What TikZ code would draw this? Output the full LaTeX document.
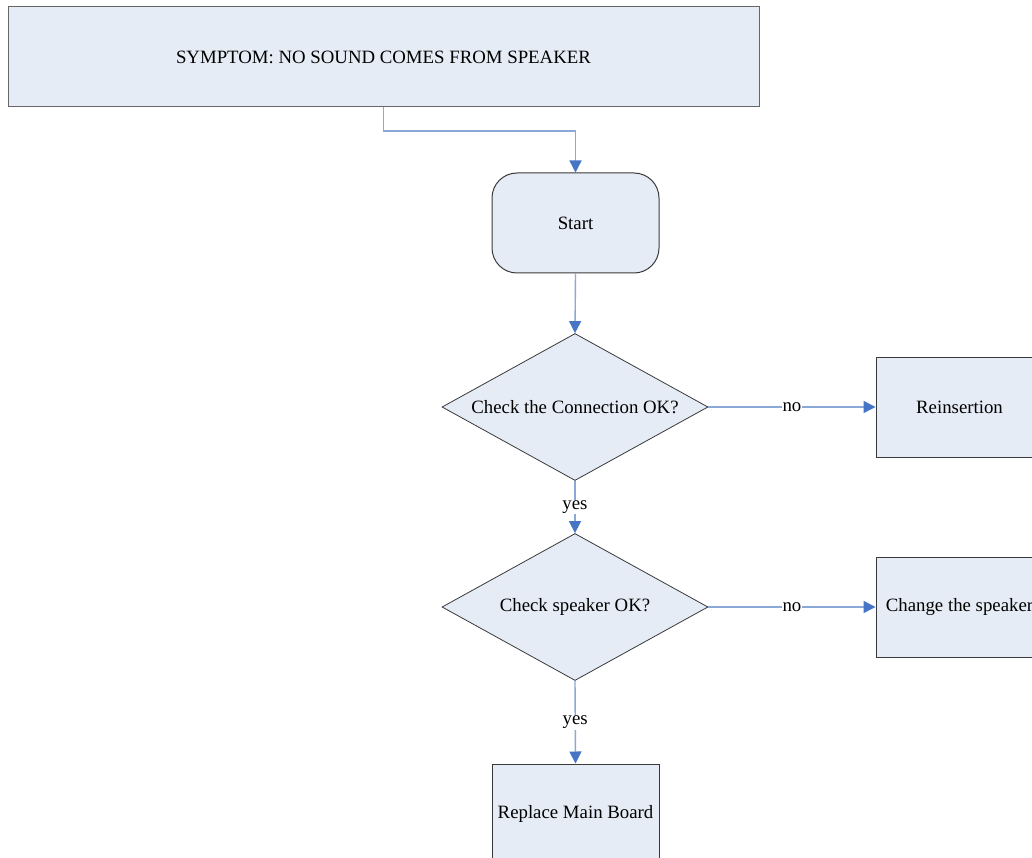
\documentclass[tikz,border=0pt]{standalone}
\usepackage{fontspec}
\setmainfont{Liberation Serif}
\usetikzlibrary{shapes.geometric,arrows.meta}
\definecolor{boxfill}{HTML}{E6ECF6}
\definecolor{boxdraw}{HTML}{3A3A3A}
\definecolor{linec}{HTML}{8AA8D8}
\definecolor{tipc}{HTML}{4575C4}
\tikzset{
  x=1pt,y=-1pt,
  every node/.style={font=\fontsize{18.8}{22}\selectfont},
  rectbox/.style={draw=boxdraw,fill=boxfill,line width=1pt,minimum width=167pt,minimum height=100pt,inner sep=0pt},
  startbox/.style={rectbox,rounded corners=25pt},
  decbox/.style={diamond,aspect=1.81,draw=boxdraw,fill=boxfill,line width=0.8pt,minimum width=266pt,minimum height=147pt,inner sep=0pt},
  conn/.style={draw=linec,line width=1.4pt,-{Triangle[length=12pt,width=12pt,color=tipc]}},
  lbl/.style={fill=white,inner sep=1pt}
}
\begin{document}
\begin{tikzpicture}
\useasboundingbox (0,0) rectangle (1032,858);
\clip (0,0) rectangle (1032,858);
\fill[white] (0,0) rectangle (1032,858);
\node[rectbox,draw=gray!80!black,minimum width=751pt] (sym) at (383.5,57) {SYMPTOM: NO SOUND COMES FROM SPEAKER};
\node[startbox] (start) at (575.5,223) {Start};
\node[decbox] (d1) at (575,407) {Check the Connection OK?};
\node[rectbox] (re) at (959.5,407) {Reinsertion};
\node[decbox] (d2) at (575,607) {Check speaker OK?};
\node[rectbox] (ch) at (959.5,607) {Change the speaker};
\node[rectbox] (rep) at (575.5,814) {Replace Main Board};
\coordinate (bend) at (383.5,131);
\draw[conn] (sym.south) -- (bend) -| (start.north);
\draw[conn] (start.south) -- (d1.north);
\draw[conn] (d1.east) -- node[lbl] {no} (re.west);
\draw[conn] (d1.south) -- node[lbl] {yes} (d2.north);
\draw[conn] (d2.east) -- node[lbl] {no} (ch.west);
\draw[conn] (d2.south) -- node[lbl] {yes} (rep.north);
\end{tikzpicture}
\end{document}
